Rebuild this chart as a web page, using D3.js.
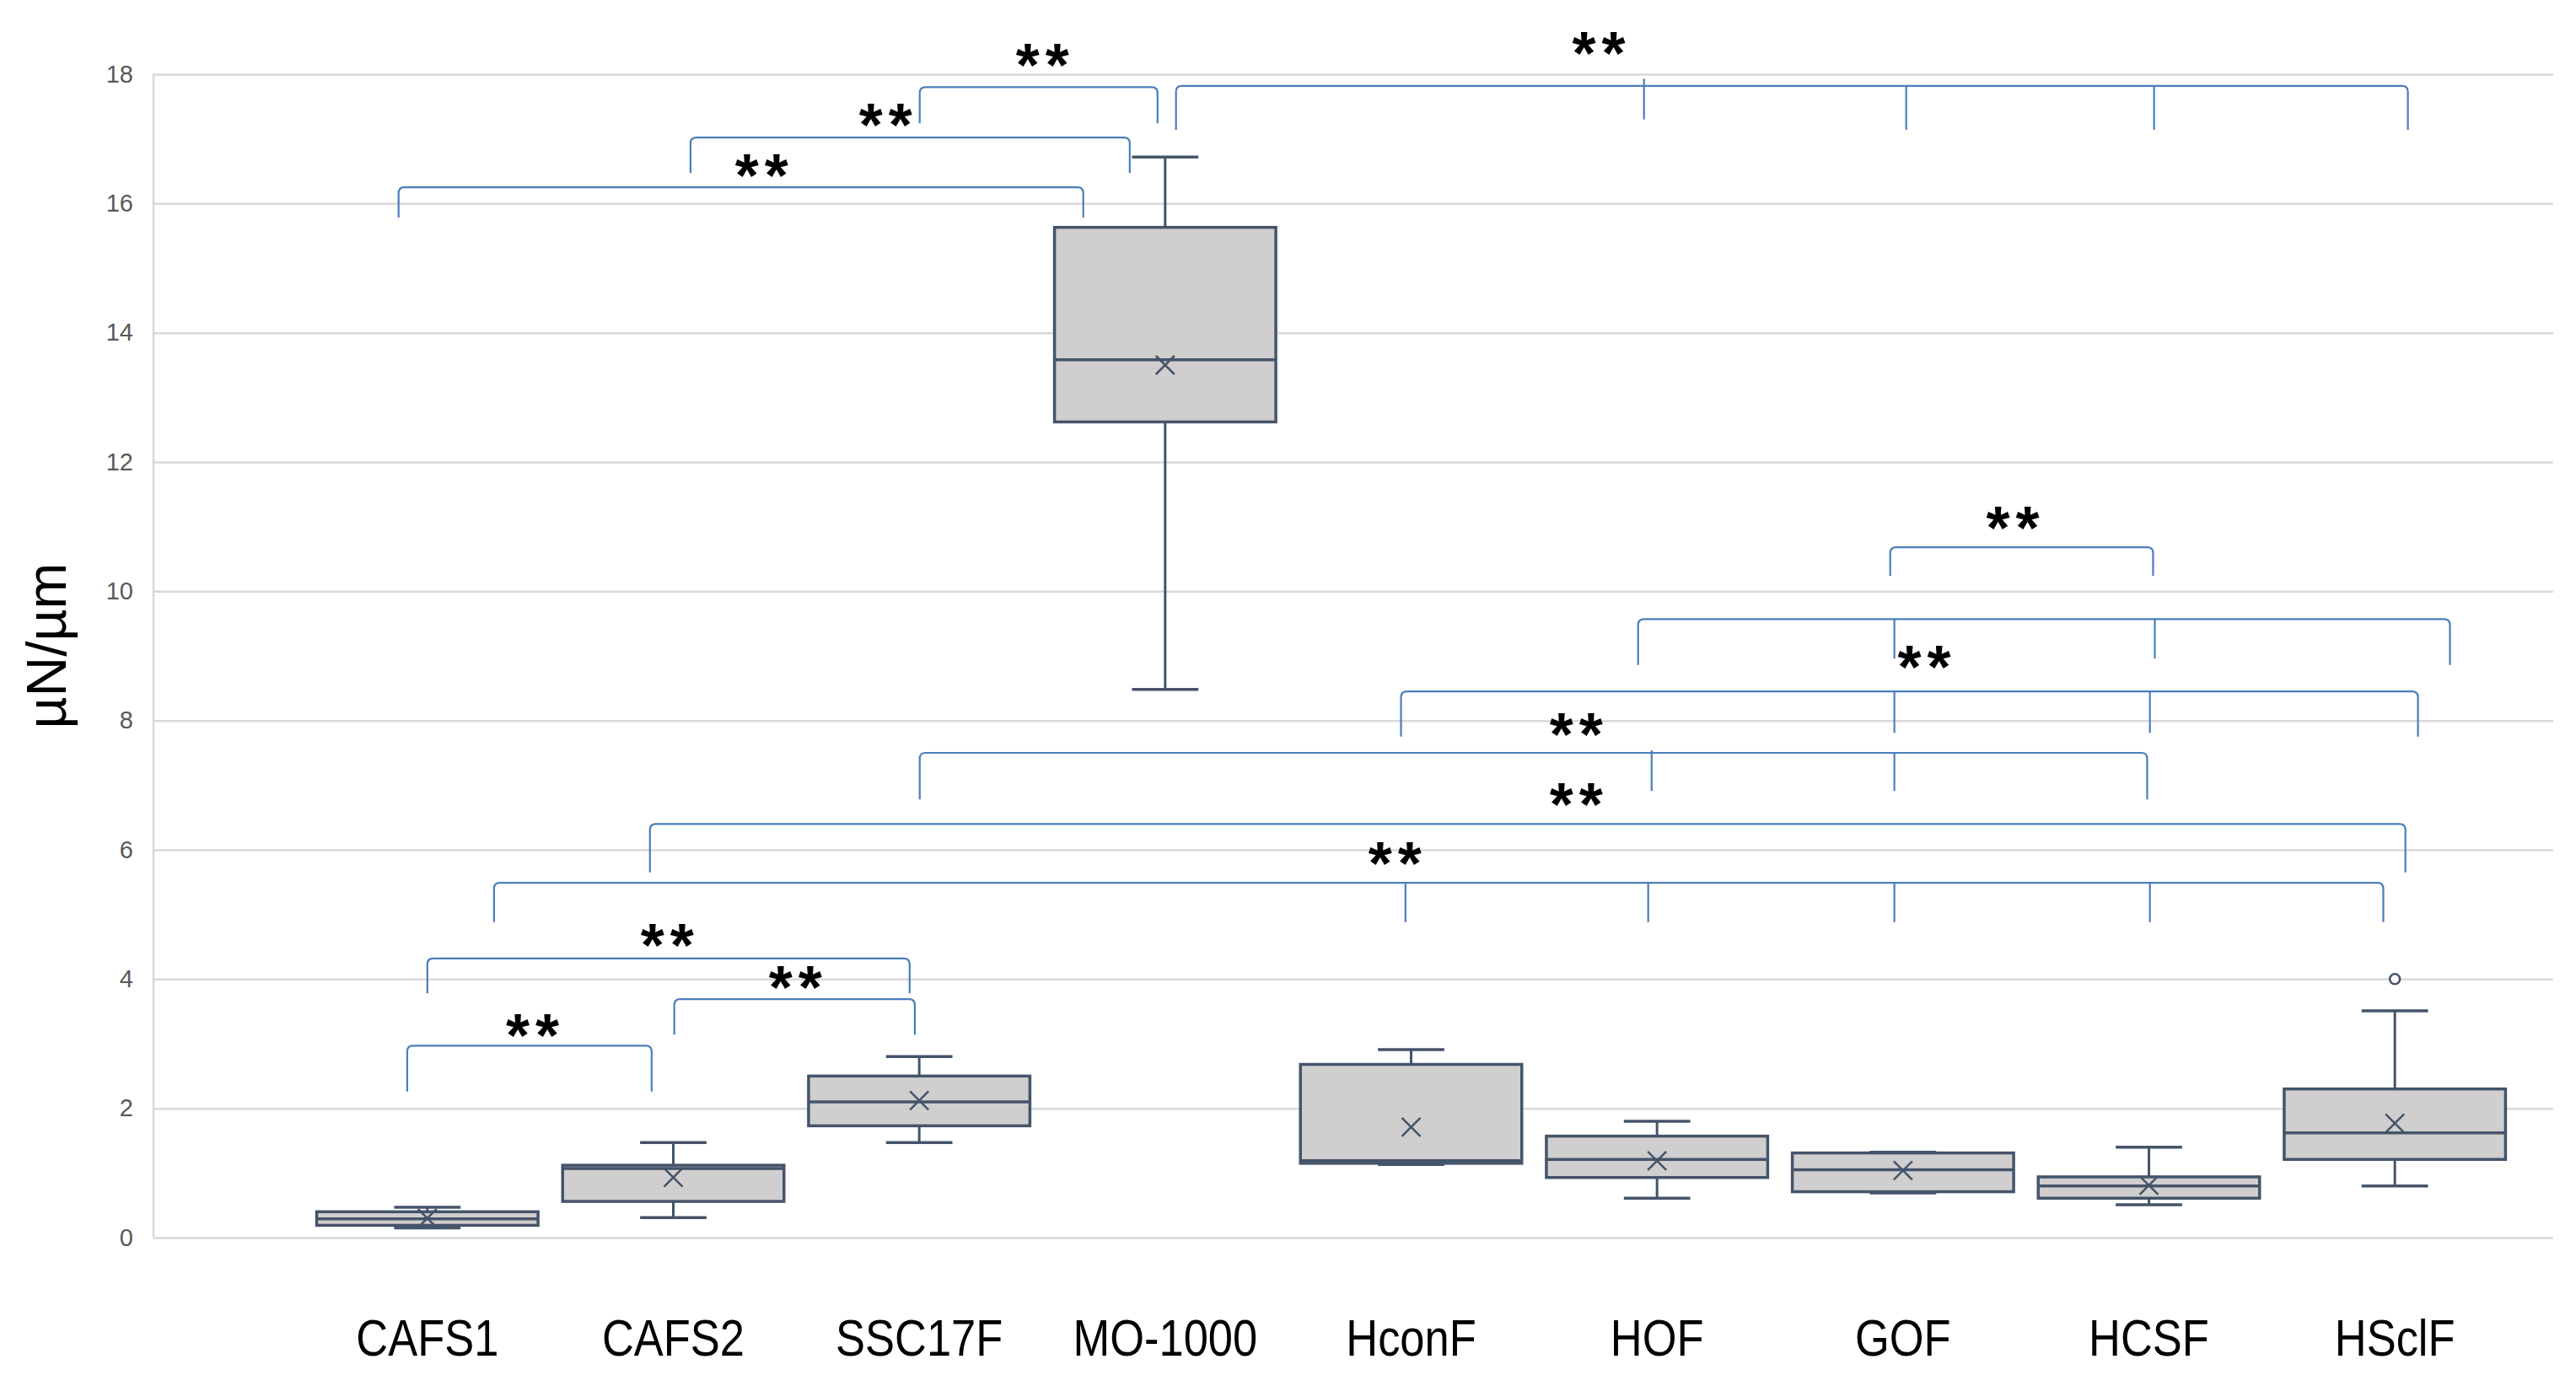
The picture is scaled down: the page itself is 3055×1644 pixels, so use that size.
<!DOCTYPE html>
<html><head><meta charset="utf-8">
<script src="https://cdn.jsdelivr.net/npm/d3@7"></script>
<style>html,body{margin:0;padding:0;background:#fff;} svg{display:block;}</style>
</head><body>
<svg id="chart" width="3055" height="1644"></svg>
<script>
// ---------- data ----------
const categories = ["CAFS1","CAFS2","SSC17F","MO-1000","HconF","HOF","GOF","HCSF","HSclF"];
const whiskerLow  = [0.15, 0.31, 1.47,  8.48, 1.13, 0.61, 0.69, 0.51, 0.80];
const q1          = [0.19, 0.56, 1.73, 12.62, 1.15, 0.93, 0.71, 0.61, 1.21];
const median      = [0.29, 1.07, 2.10, 13.58, 1.19, 1.21, 1.05, 0.80, 1.62];
const q3          = [0.40, 1.12, 2.50, 15.63, 2.68, 1.57, 1.31, 0.94, 2.30];
const whiskerHigh = [0.47, 1.47, 2.80, 16.72, 2.91, 1.80, 1.32, 1.40, 3.51];
const mean        = [0.30, 0.93, 2.12, 13.50, 1.71, 1.19, 1.04, 0.81, 1.77];
const outlierCategory = ["HSclF"];
const outlierValue    = [4.0];
const yTicks = [0,2,4,6,8,10,12,14,16,18];
const yTitle = "µN/µm";

// significance brackets (x in category-index units, y in data units)
const bracketLeft   = [-0.117, 1.070, 2.002, 3.044, 5.948, 4.923, 3.959, 2.002, 0.905, 0.271, 0.000, 1.004, -0.082];
const bracketRight  = [ 2.667, 2.856, 2.969, 8.053, 7.017, 8.224, 8.094, 6.993, 8.043, 7.953, 1.961, 1.982,  0.912];
const bracketLevel  = [16.25, 17.02, 17.80, 17.82, 10.68, 9.57, 8.45, 7.50, 6.40, 5.49, 4.32, 3.69, 2.97];
const bracketLegEnd = [15.78, 16.47, 17.24, 17.14, 10.24, 8.86, 7.75, 6.78, 5.65, 4.88, 3.78, 3.14, 2.26];
// inner ticks: [index, bottom value, top value(optional)]
const bracketTicks = [
  [], [], [],
  [[4.947, 17.30, 17.93], [6.013, 17.14], [7.021, 17.14]],
  [],
  [[5.965, 8.96], [7.024, 8.96]],
  [[5.965, 7.81], [7.004, 7.81]],
  [[4.978, 6.91, 7.54], [5.965, 6.91]],
  [],
  [[3.977, 4.88], [4.964, 4.88], [5.965, 4.88], [7.004, 4.88]],
  [], [], []
];
const sigText  = ["**","**","**","**","**","**","**","**","**","**","**","**"];
const sigIndex = [1.361, 1.865, 2.503, 4.765, 6.448, 6.088, 4.673, 4.673, 3.936, 0.977, 1.498, 0.429];
const sigValue = [16.58, 17.36, 18.29, 18.47, 11.13, 8.97, 7.93, 6.85, 5.93, 4.67, 4.02, 3.27];

// ---------- drawing ----------
const W = 3055, H = 1644;
const svg = d3.select('#chart');
svg.append('rect').attr('width', W).attr('height', H).attr('fill', '#fff');

const plotLeft = 182, plotRight = 3028;
const y = d3.scaleLinear().domain([0, 18]).range([1468, 88]);
const x = d3.scaleBand().domain(categories).range([361, 2986]).padding(0);
const bw = x.bandwidth();
const boxW = bw * 0.9;
const capW = boxW * 0.30;
const cx = c => x(c) + bw / 2;
const xi = d3.scaleLinear().domain([0, categories.length - 1])
  .range([cx(categories[0]), cx(categories[categories.length - 1])]);

// gridlines + tick labels
const yAxis = d3.axisLeft(y).tickValues(yTicks).tickSize(-(plotRight - plotLeft))
  .tickPadding(24).tickFormat(d3.format('d'));
const gy = svg.append('g').attr('transform', `translate(${plotLeft},0)`).call(yAxis);
gy.select('.domain').remove();
gy.selectAll('.tick line').attr('stroke', '#d9d9d9').attr('stroke-width', 2.5);
gy.selectAll('.tick text').attr('fill', '#595959')
  .style('font-family', '"Liberation Sans", Arial, sans-serif').style('font-size', '29px');
svg.append('line').attr('x1', plotLeft).attr('x2', plotLeft)
  .attr('y1', y(18)).attr('y2', y(0)).attr('stroke', '#d9d9d9').attr('stroke-width', 2.5);

// y title
svg.append('text').text(yTitle)
  .attr('transform', `translate(78,766) rotate(-90)`)
  .attr('text-anchor', 'middle')
  .style('font-family', '"Liberation Sans", Arial, sans-serif')
  .style('font-size', '66px').attr('fill', '#000');

// category labels (horizontally condensed to mimic the narrow original face)
svg.append('g').selectAll('text').data(categories).join('text')
  .attr('transform', d => `translate(${cx(d)},1608) scale(0.86,1)`)
  .attr('text-anchor', 'middle')
  .style('font-family', '"Liberation Sans", Arial, sans-serif')
  .style('font-size', '61px').attr('fill', '#000').text(d => d);

// brackets
const bc = '#4a7ebb';
const gB = svg.append('g').attr('fill', 'none').attr('stroke', bc).attr('stroke-width', 2.2);
const r = 7;
bracketLeft.forEach((l, i) => {
  const x0 = xi(l), x1 = xi(bracketRight[i]);
  const yl = y(bracketLevel[i]), yb = y(bracketLegEnd[i]);
  const p = d3.path();
  p.moveTo(x0, yb); p.lineTo(x0, yl + r);
  p.quadraticCurveTo(x0, yl, x0 + r, yl);
  p.lineTo(x1 - r, yl);
  p.quadraticCurveTo(x1, yl, x1, yl + r);
  p.lineTo(x1, yb);
  gB.append('path').attr('d', p.toString());
  bracketTicks[i].forEach(t => {
    const top = t.length > 2 ? y(t[2]) : yl;
    gB.append('line').attr('x1', xi(t[0])).attr('x2', xi(t[0]))
      .attr('y1', top).attr('y2', y(t[1]));
  });
});

// significance labels
svg.append('g').selectAll('text').data(sigText).join('text')
  .attr('x', (d, i) => xi(sigIndex[i]) + 3)
  .attr('y', (d, i) => y(sigValue[i]) + 36)
  .attr('text-anchor', 'middle')
  .style('font-family', '"Liberation Sans", Arial, sans-serif')
  .style('font-weight', 'bold')
  .style('font-size', '72px').style('letter-spacing', '7px')
  .attr('fill', '#000').text(d => d);

// boxes
const sc = '#44546a', fillC = '#d0cece';
const gX = svg.append('g').attr('stroke', sc);
categories.forEach((c, i) => {
  const xc = cx(c);
  gX.append('line').attr('x1', xc).attr('x2', xc).attr('y1', y(whiskerLow[i])).attr('y2', y(q1[i])).attr('stroke-width', 3);
  gX.append('line').attr('x1', xc).attr('x2', xc).attr('y1', y(q3[i])).attr('y2', y(whiskerHigh[i])).attr('stroke-width', 3);
  gX.append('line').attr('x1', xc - capW / 2).attr('x2', xc + capW / 2).attr('y1', y(whiskerLow[i])).attr('y2', y(whiskerLow[i])).attr('stroke-width', 3.5);
  gX.append('line').attr('x1', xc - capW / 2).attr('x2', xc + capW / 2).attr('y1', y(whiskerHigh[i])).attr('y2', y(whiskerHigh[i])).attr('stroke-width', 3.5);
  gX.append('rect').attr('x', xc - boxW / 2).attr('width', boxW)
    .attr('y', y(q3[i])).attr('height', y(q1[i]) - y(q3[i]))
    .attr('fill', fillC).attr('stroke-width', 3.5);
  gX.append('line').attr('x1', xc - boxW / 2).attr('x2', xc + boxW / 2)
    .attr('y1', y(median[i])).attr('y2', y(median[i])).attr('stroke-width', 3.5);
  const m = y(mean[i]), s = 11;
  gX.append('path').attr('d', `M${xc - s},${m - s}L${xc + s},${m + s}M${xc + s},${m - s}L${xc - s},${m + s}`)
    .attr('stroke-width', 2.5).attr('fill', 'none');
});
// outliers
svg.append('g').selectAll('circle').data(outlierValue).join('circle')
  .attr('cx', (d, i) => cx(outlierCategory[i])).attr('cy', d => y(d)).attr('r', 6)
  .attr('fill', '#fff').attr('stroke', sc).attr('stroke-width', 2.5);
</script>
</body></html>
